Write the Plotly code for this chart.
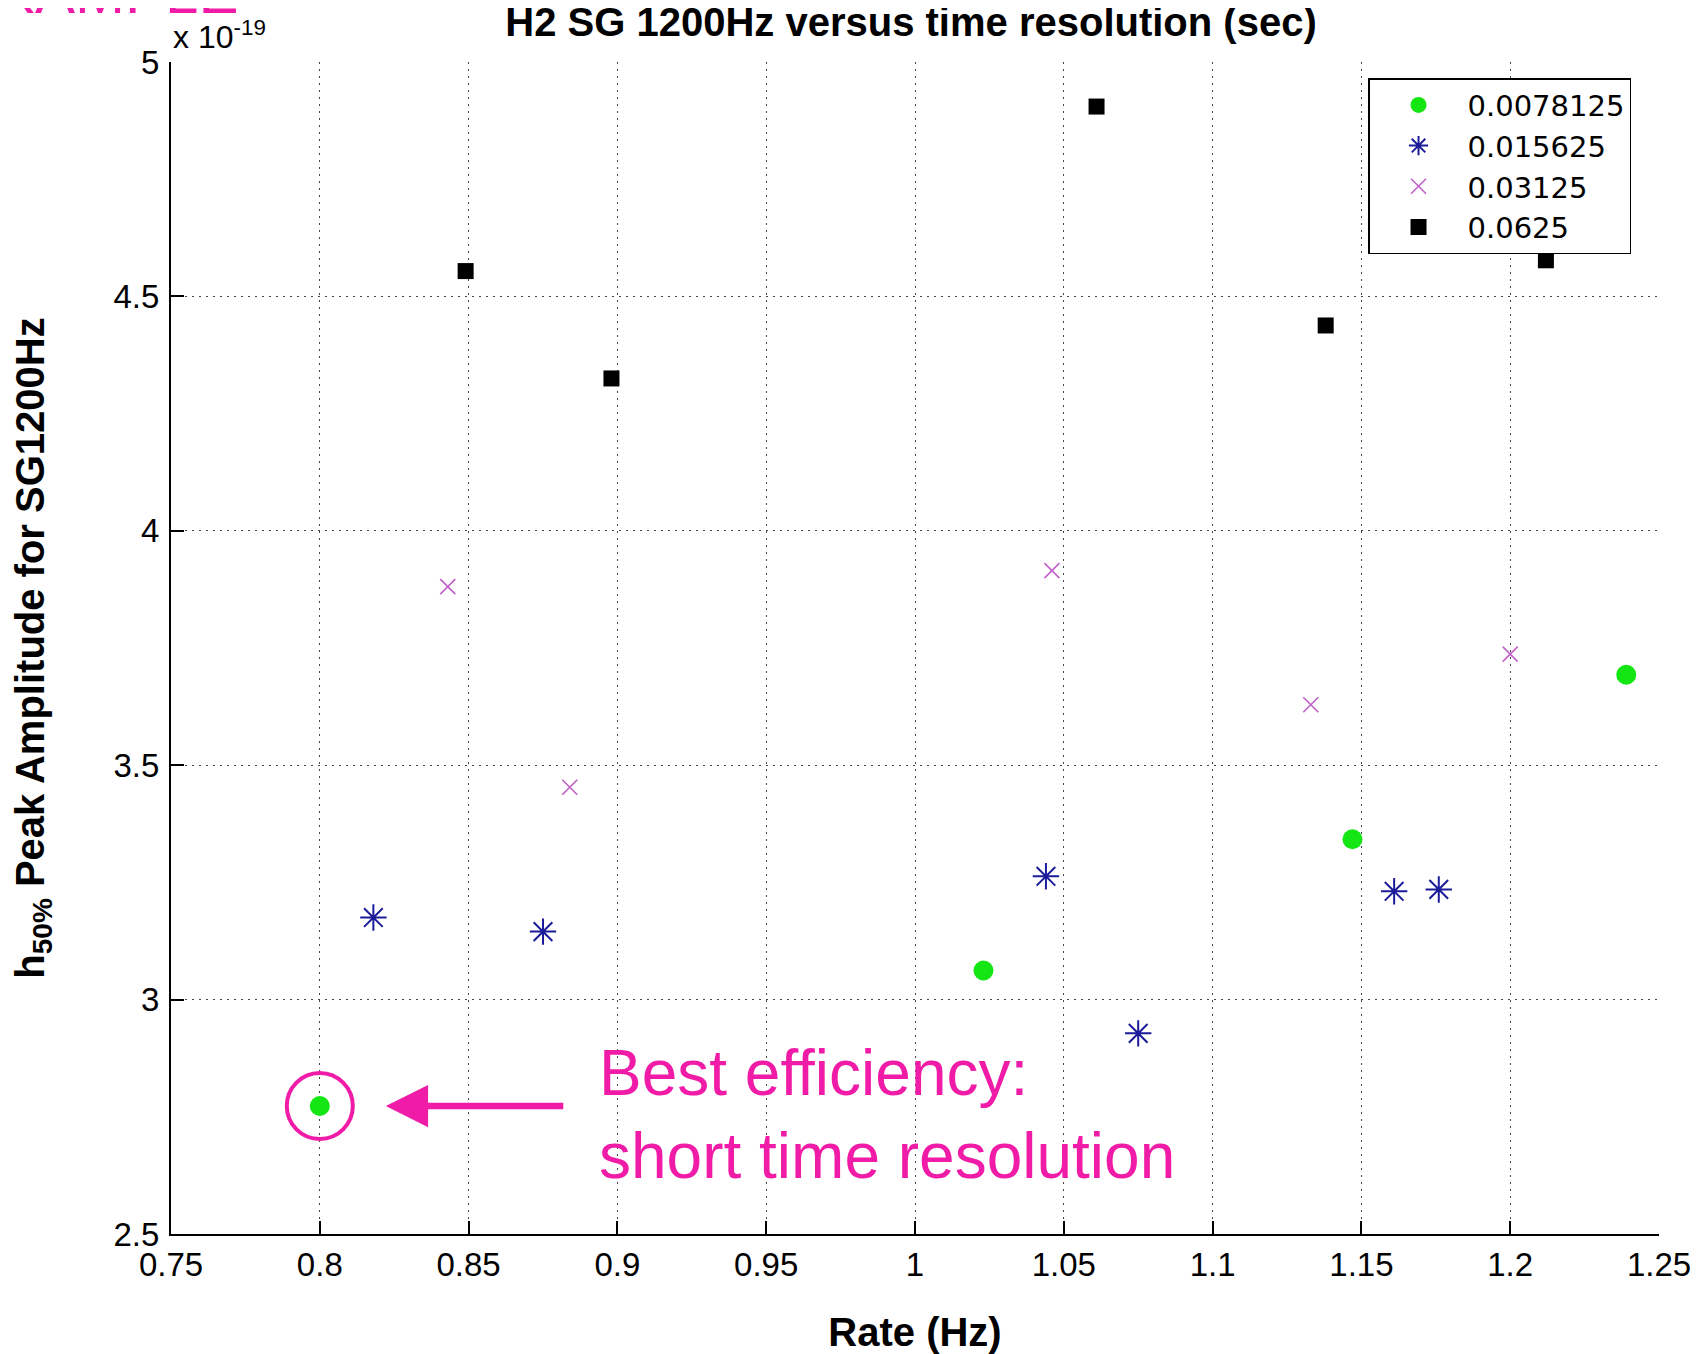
import plotly.graph_objects as go

# Values of h50% are in units of 1e-19 (axis multiplier shown as "x 10^-19")
series_names = ["0.0078125", "0.015625", "0.03125", "0.0625"]

rate_00078 = [0.800, 1.023, 1.147, 1.239]
amp_00078 = [2.773, 3.062, 3.342, 3.693]

rate_0156 = [0.818, 0.875, 1.044, 1.075, 1.161, 1.176]
amp_0156 = [3.175, 3.145, 3.263, 2.928, 3.231, 3.235]

rate_0312 = [0.843, 0.884, 1.046, 1.133, 1.200]
amp_0312 = [3.881, 3.453, 3.915, 3.629, 3.737]

rate_0625 = [0.849, 0.898, 1.061, 1.138, 1.212]
amp_0625 = [4.554, 4.325, 4.905, 4.438, 4.577]

x_tickvals = [0.75, 0.8, 0.85, 0.9, 0.95, 1.0, 1.05, 1.1, 1.15, 1.2, 1.25]
x_ticktext = ["0.75", "0.8", "0.85", "0.9", "0.95", "1", "1.05", "1.1", "1.15", "1.2", "1.25"]
y_tickvals = [2.5, 3.0, 3.5, 4.0, 4.5, 5.0]
y_ticktext = ["2.5", "3", "3.5", "4", "4.5", "5"]

FONT = "Arial, Liberation Sans, Helvetica, sans-serif"
PINK = "#f01ca8"

fig = go.Figure()
fig.add_trace(go.Scatter(x=rate_00078, y=amp_00078, mode="markers", name=series_names[0],
                         marker=dict(symbol="circle", size=20, color="#14e614", line=dict(width=0))))
fig.add_trace(go.Scatter(x=rate_0156, y=amp_0156, mode="markers", name=series_names[1],
                         marker=dict(symbol="asterisk-open", size=22, color="#1c1c9a",
                                     line=dict(width=2, color="#1c1c9a"))))
fig.add_trace(go.Scatter(x=rate_0312, y=amp_0312, mode="markers", name=series_names[2],
                         marker=dict(symbol="x-thin-open", size=15, color="#c060c8",
                                     line=dict(width=1.6, color="#c060c8"))))
fig.add_trace(go.Scatter(x=rate_0625, y=amp_0625, mode="markers", name=series_names[3],
                         marker=dict(symbol="square", size=16, color="black", line=dict(width=0))))

# highlight ring around the best (lowest) green point
best_i = min(range(len(amp_00078)), key=lambda i: amp_00078[i])
best_x, best_y = rate_00078[best_i], amp_00078[best_i]
fig.add_trace(go.Scatter(x=[best_x], y=[best_y], mode="markers", showlegend=False, hoverinfo="skip",
                         marker=dict(symbol="circle-open", size=66, color=PINK,
                                     line=dict(width=4, color=PINK))))

fig.add_annotation(x=best_x, y=best_y, xref="x", yref="y", text="", showarrow=True,
                   ax=245, ay=0, axref="pixel", ayref="pixel", standoff=66,
                   arrowhead=2, arrowsize=1.3, arrowwidth=6.5, arrowcolor=PINK)

fig.add_annotation(x=0.2863, y=0.102, xref="paper", yref="paper", xanchor="left", yanchor="middle",
                   align="left", showarrow=False,
                   text="Best efficiency:<br>short time resolution",
                   font=dict(family=FONT, size=64, color=PINK))

# exponent label
fig.add_annotation(x=0.0, y=1.004, xref="paper", yref="paper", xanchor="left", yanchor="bottom",
                   showarrow=False, text="x 10<sup>-19</sup>",
                   font=dict(family=FONT, size=32, color="black"))

# clipped watermark at top-left
fig.add_annotation(x=0.0464, y=1.0293, xref="paper", yref="paper", xanchor="right", yanchor="bottom",
                   showarrow=False, text="EXAMPLE",
                   font=dict(family=FONT, size=60, color=PINK))

axis_common = dict(
    showline=True, linecolor="black", linewidth=2, mirror=False,
    ticks="inside", ticklen=13, tickwidth=1.5, tickcolor="black",
    showgrid=True, gridcolor="#444444", gridwidth=1, griddash="2px,5px",
    zeroline=False,
    tickfont=dict(family=FONT, size=33, color="black"),
)

fig.update_xaxes(range=[0.75, 1.25], tickvals=x_tickvals, ticktext=x_ticktext,
                 title=dict(text="<b>Rate (Hz)</b>", font=dict(family=FONT, size=40, color="black"),
                            standoff=38),
                 **axis_common)
fig.update_yaxes(range=[2.5, 5.0], tickvals=y_tickvals, ticktext=y_ticktext,
                 ticklabelstandoff=3,
                 title=dict(text="<b>h<sub>50%</sub> Peak Amplitude for SG1200Hz</b>",
                            font=dict(family=FONT, size=40, color="black"), standoff=58),
                 **axis_common)

# page body has an 8px margin; figure is sized so it fits the 1700x1354 window exactly
fig.update_layout(
    width=1692, height=1346,
    margin=dict(l=163, r=41, t=54, b=120, autoexpand=False),
    paper_bgcolor="white", plot_bgcolor="white",
    title=dict(text="<b>H2 SG 1200Hz versus time resolution (sec)</b>",
               font=dict(family=FONT, size=40, color="black"),
               x=0.5337, xanchor="center", y=0.9895, yanchor="middle"),
    showlegend=True,
    legend=dict(x=0.9812, y=0.9863, xanchor="right", yanchor="top",
                bgcolor="white", bordercolor="black", borderwidth=1.5,
                font=dict(family="DejaVu Sans, Arial, sans-serif", size=29, color="black"),
                itemwidth=88, tracegroupgap=0),
    font=dict(family=FONT, color="black"),
)

fig.write_html("out.html")
